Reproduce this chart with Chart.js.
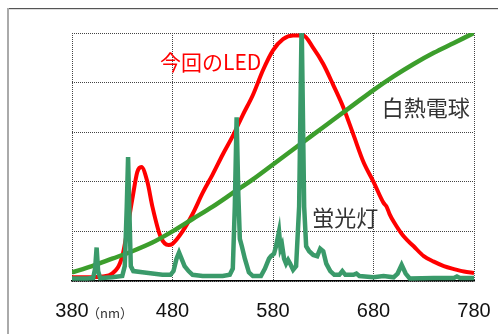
<html lang="ja">
  <head>
    <meta charset="utf-8">
    <title>Spectrum</title>
    <script src="https://cdn.jsdelivr.net/npm/chart.js@4.4.1/dist/chart.umd.min.js"></script>
    <style>
      html, body { margin: 0; padding: 0; background: #fff; }
      #wrap { width: 498px; height: 334px; }
    </style>
  </head>
  <body>
  <div id="wrap"><canvas id="myChart" width="498" height="334"></canvas></div>
  <script>
    // wavelength ticks (nm)
    var xTicks = [380, 480, 580, 680, 780];
    var xTickLabels = ['380', '480', '580', '680', '780'];

    // this LED (normalised)
    var ledWl  = [380, 390, 400, 410, 420, 430, 440, 445, 449, 455, 460, 468, 476, 480, 490, 500, 510, 520, 530, 540, 550, 560, 570, 580, 590, 600, 605, 610, 620, 630, 640, 650, 660, 670, 680, 690, 693, 696, 700, 710, 720, 730, 740, 750, 760, 770, 780];
    var ledVal = [0.015, 0.015, 0.015, 0.018, 0.03, 0.10, 0.33, 0.44, 0.46, 0.40, 0.30, 0.18, 0.145, 0.15, 0.20, 0.27, 0.355, 0.43, 0.51, 0.585, 0.67, 0.75, 0.85, 0.93, 0.975, 0.99, 0.99, 0.99, 0.94, 0.875, 0.79, 0.70, 0.59, 0.48, 0.40, 0.315, 0.30, 0.27, 0.24, 0.18, 0.14, 0.10, 0.078, 0.06, 0.048, 0.038, 0.032];

    // incandescent bulb
    var incWl  = [380, 400, 420, 440, 460, 480, 500, 520, 540, 560, 580, 600, 620, 640, 660, 680, 700, 720, 740, 760, 780];
    var incVal = [0.035, 0.06, 0.09, 0.12, 0.155, 0.20, 0.25, 0.30, 0.355, 0.41, 0.47, 0.53, 0.59, 0.65, 0.71, 0.77, 0.825, 0.875, 0.92, 0.96, 1.0];

    // fluorescent lamp
    var fluWl  = [380, 395, 401, 403, 404.5, 406, 408, 420, 430, 432.5, 434.5, 435.8, 437, 438.5, 441, 450, 460, 470, 478, 481, 484, 486.5, 489, 492, 496, 500, 510, 520, 530, 537, 540, 542, 543.8, 545.5, 547, 549, 552, 556, 560, 568, 572, 576, 578, 581, 583, 586, 587.5, 589, 591, 593, 595, 597, 600, 603, 606, 608.5, 611, 613, 616, 620, 624, 627, 630, 633, 637, 641, 646, 649, 652, 660, 663, 666, 680, 690, 700, 704, 708, 712, 716, 740, 760, 763, 766, 780];
    var fluVal = [0.01, 0.01, 0.012, 0.05, 0.135, 0.04, 0.012, 0.015, 0.02, 0.06, 0.3, 0.5, 0.3, 0.06, 0.04, 0.035, 0.03, 0.025, 0.025, 0.04, 0.09, 0.115, 0.09, 0.06, 0.04, 0.025, 0.02, 0.02, 0.02, 0.025, 0.05, 0.3, 0.66, 0.35, 0.17, 0.14, 0.09, 0.035, 0.02, 0.02, 0.05, 0.09, 0.10, 0.11, 0.14, 0.2, 0.13, 0.145, 0.09, 0.07, 0.085, 0.07, 0.045, 0.06, 0.3, 1.05, 0.3, 0.14, 0.12, 0.105, 0.1, 0.13, 0.12, 0.07, 0.04, 0.025, 0.025, 0.04, 0.025, 0.025, 0.03, 0.02, 0.015, 0.02, 0.015, 0.03, 0.065, 0.03, 0.01, 0.012, 0.012, 0.018, 0.012, 0.012];

    // series names drawn inside the plot
    var seriesNames = ['今回のLED', '白熱電球', '蛍光灯'];

    function toPoints(xs, ys) {
      var pts = [];
      for (var i = 0; i < xs.length; i++) {
        pts.push({x: xs[i], y: ys[i]});
      }
      return pts;
    }

    var cjk = '"Noto Sans CJK JP", "Noto Sans", sans-serif';

    // frame, (nm) unit and in-plot labels
    var decorations = {
      id: 'decorations',
      beforeDraw: function(chart) {
        var c = chart.ctx;
        c.save();
        c.fillStyle = '#fff';
        c.fillRect(0, 0, chart.width, chart.height);
        c.strokeStyle = '#555';
        c.lineWidth = 1;
        c.beginPath(); c.moveTo(8, 8.5); c.lineTo(498, 8.5); c.stroke();
        c.strokeStyle = '#ddd';
        c.beginPath(); c.moveTo(8, 9.5); c.lineTo(498, 9.5); c.stroke();
        c.strokeStyle = '#aaa';
        c.lineWidth = 2;
        c.beginPath(); c.moveTo(8, 8); c.lineTo(8, 334); c.stroke();
        c.restore();
      },
      afterDraw: function(chart) {
        var c = chart.ctx;
        var xs = chart.scales.x, ys = chart.scales.y;
        c.save();
        c.textAlign = 'center';
        c.textBaseline = 'middle';
        c.font = '21px ' + cjk;
        c.fillStyle = '#ff0000';
        c.fillText(seriesNames[0], xs.getPixelForValue(518), ys.getPixelForValue(0.885));
        c.font = '22px ' + cjk;
        c.fillStyle = '#333';
        c.fillText(seriesNames[1], xs.getPixelForValue(732), ys.getPixelForValue(0.70));
        c.fillText(seriesNames[2], xs.getPixelForValue(652), ys.getPixelForValue(0.255));
        c.textAlign = 'left';
        c.font = '13px ' + cjk;
        c.fillStyle = '#333';
        c.fillText('（nm）', xs.getPixelForValue(380) + 15, 313);
        c.restore();
      }
    };

    var ctx = document.getElementById('myChart').getContext('2d');
    new Chart(ctx, {
      type: 'line',
      data: {
        datasets: [{
          label: seriesNames[2],
          data: toPoints(fluWl, fluVal),
          borderColor: '#3a9a6a',
          borderWidth: 4.5,
          tension: 0,
          order: 1
        }, {
          label: seriesNames[1],
          data: toPoints(incWl, incVal),
          borderColor: '#3c9e2c',
          borderWidth: 4.5,
          cubicInterpolationMode: 'monotone',
          order: 2
        }, {
          label: seriesNames[0],
          data: toPoints(ledWl, ledVal),
          borderColor: '#ff0000',
          borderWidth: 4,
          cubicInterpolationMode: 'monotone',
          order: 3
        }]
      },
      options: {
        responsive: false,
        animation: false,
        events: [],
        elements: { point: { radius: 0 } },
        layout: { padding: { left: 72, right: 24, top: 33, bottom: 0 } },
        plugins: { legend: { display: false }, tooltip: { enabled: false } },
        scales: {
          x: {
            type: 'linear',
            min: 380,
            max: 780,
            afterFit: function(scale) {
              scale.height = 53;
              scale.paddingLeft = 0;
              scale.paddingRight = 0;
            },
            afterBuildTicks: function(scale) {
              scale.ticks = xTicks.map(function(v) { return {value: v}; });
            },
            ticks: {
              autoSkip: false,
              maxRotation: 0,
              padding: 18,
              color: '#111',
              font: { family: '"Liberation Sans", Arial, sans-serif', size: 20 },
              callback: function(value) {
                var i = xTicks.indexOf(value);
                return i >= 0 ? xTickLabels[i] : '';
              }
            },
            grid: { color: '#444', lineWidth: 1, drawTicks: false },
            border: { display: true, color: '#000', width: 1.5, dash: [1, 1] }
          },
          y: {
            min: 0,
            max: 1,
            ticks: { display: false, stepSize: 0.2 },
            grid: { color: '#444', lineWidth: 1, drawTicks: false },
            border: { display: false, dash: [1, 1] }
          }
        }
      },
      plugins: [decorations]
    });
  </script>
  </body>
</html>
